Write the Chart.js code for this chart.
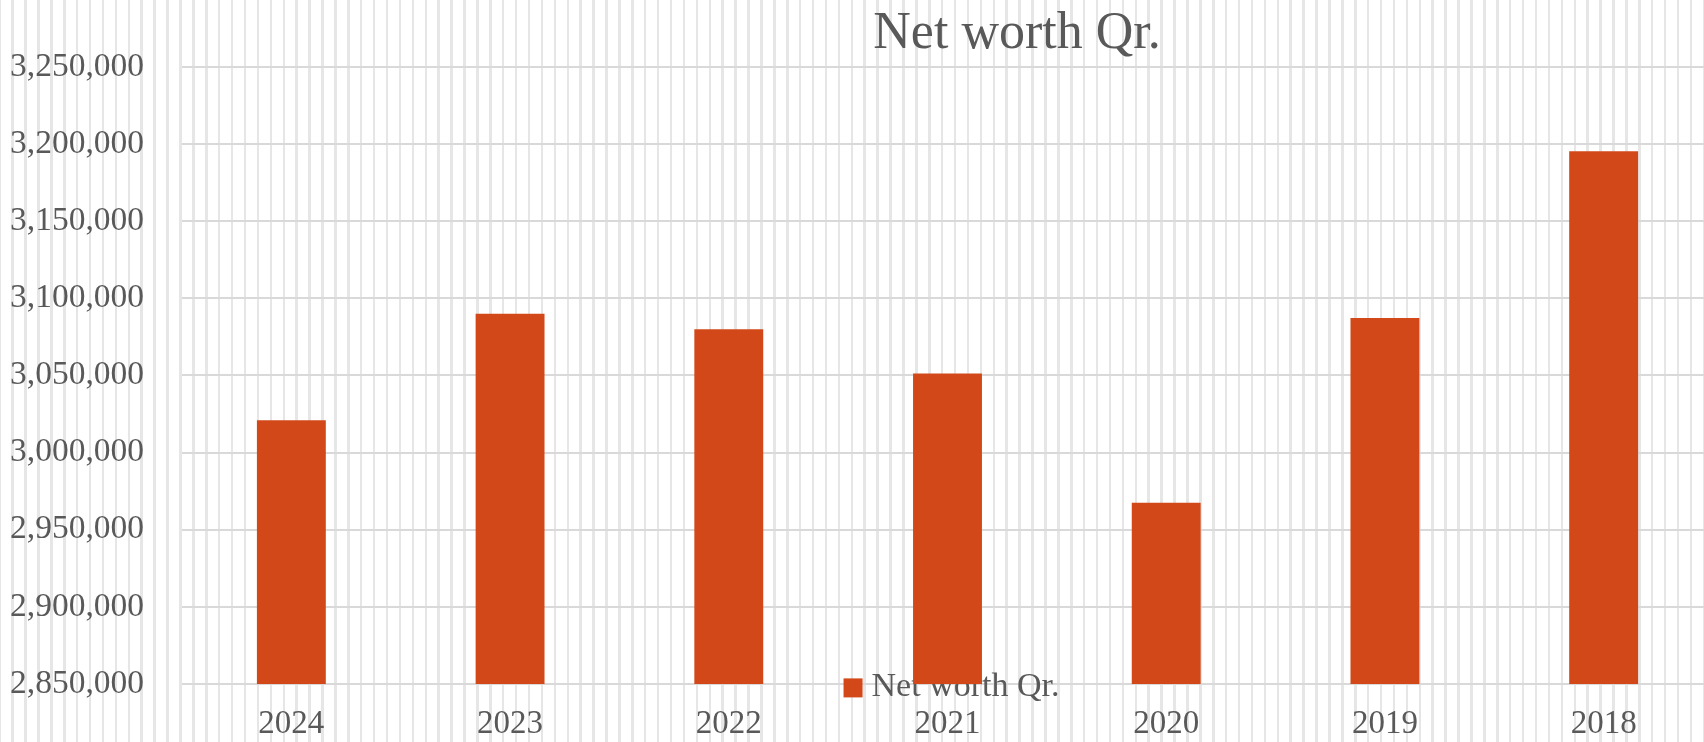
<!DOCTYPE html>
<html>
<head>
<meta charset="utf-8">
<script src="https://cdn.jsdelivr.net/npm/chart.js@4/dist/chart.umd.min.js"></script>
<style>
    html, body {
        margin: 0;
        padding: 0;
        width: 1704px;
        height: 742px;
        overflow: hidden;
        background-color: #ffffff;
        background-image: repeating-linear-gradient(90deg, #ffffff 0px, #ffffff 10.4px, #e6e6e6 10.4px, #e6e6e6 12.91px);
        background-position: 1px 0;
    }
    /* 右端はウィンドウの外まで少しはみ出す */
    #chart-box {
        width: 1713px;
        height: 742px;
    }
</style>
</head>
<body>
<div id="chart-box"><canvas id="networth-chart"></canvas></div>
<script>
// data
const years = ['2024', '2023', '2022', '2021', '2020', '2019', '2018'];
const netWorth = [3021000, 3090000, 3080000, 3051300, 2967400, 3087200, 3195400];
const seriesName = 'Net worth Qr.';
const chartTitle = 'Net worth Qr.';
const yMin = 2850000;
const yMax = 3250000;
const yStep = 50000;

const barColor = '#d24818';
const textColor = '#595959';
const fontFamily = '"Liberation Serif", "DejaVu Serif", serif';

// タイトルを描くプラグイン
const titlePlugin = {
    id: 'ownTitle',
    afterDraw(chart) {
        const ctx = chart.ctx;
        ctx.save();
        ctx.font = '52px ' + fontFamily;
        ctx.fillStyle = textColor;
        ctx.textAlign = 'center';
        ctx.textBaseline = 'alphabetic';
        ctx.fillText(chartTitle, 1017, 48);
        ctx.restore();
    }
};

// 凡例（棒の下に描く）
const legendPlugin = {
    id: 'ownLegend',
    beforeDatasetsDraw(chart) {
        const ctx = chart.ctx;
        const area = chart.chartArea;
        const label = chart.data.datasets[0].label;
        ctx.save();
        ctx.font = '34px ' + fontFamily;
        const textW = ctx.measureText(label).width;
        const box = 19;
        const gap = 9;
        const total = box + gap + textW;
        const left = (area.left + area.right) / 2 + 4 - total / 2;
        const midY = area.bottom + 4;
        ctx.fillStyle = chart.data.datasets[0].backgroundColor;
        ctx.fillRect(left, midY - box / 2, box, box);
        ctx.fillStyle = textColor;
        ctx.textBaseline = 'alphabetic';
        ctx.fillText(label, left + box + gap, midY + 8);
        ctx.restore();
    }
};

const ctx = document.getElementById('networth-chart').getContext('2d');
const netWorthChart = new Chart(ctx, {
    type: 'bar',
    data: {
        labels: years,
        datasets: [{
            label: seriesName,
            data: netWorth,
            backgroundColor: barColor,
            borderWidth: 0,
            categoryPercentage: 1,
            barPercentage: 0.315
        }]
    },
    options: {
        responsive: true,
        maintainAspectRatio: false,
        animation: false,
        devicePixelRatio: 1,
        layout: {
            padding: { top: 67, right: 0, bottom: 0, left: 0 }
        },
        plugins: {
            legend: { display: false },
            title: { display: false },
            tooltip: { enabled: false }
        },
        scales: {
            x: {
                grid: { display: false, drawTicks: false },
                border: { display: false },
                ticks: {
                    color: textColor,
                    padding: 21,
                    maxRotation: 0,
                    font: { family: fontFamily, size: 33 }
                },
                afterFit(scale) {
                    scale.height = 55;
                }
            },
            y: {
                min: yMin,
                max: yMax,
                grid: { color: '#d9d9d9', lineWidth: 2, drawTicks: false },
                border: { display: false },
                ticks: {
                    stepSize: yStep,
                    color: textColor,
                    padding: 38,
                    font: { family: fontFamily, size: 33.5 },
                    callback: (v) => v.toLocaleString('en-US')
                },
                afterFit(scale) {
                    scale.width = 182;
                }
            }
        }
    },
    plugins: [legendPlugin, titlePlugin]
});
</script>
</body>
</html>
